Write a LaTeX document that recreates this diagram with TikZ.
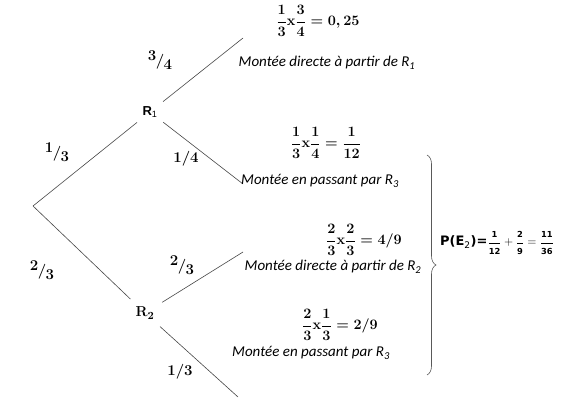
\documentclass[tikz,border=0pt]{standalone}
\usepackage{fontspec}
\usetikzlibrary{decorations.pathreplacing}
\newfontfamily\calfont{Carlito}
\newfontfamily\vfont{DejaVu Sans}
\newfontfamily\arfont{Liberation Sans}
\newcommand{\slfr}[2]{\raisebox{5pt}{#1}\kern-0.5pt/\kern-0.5pt\raisebox{-4pt}{#2}}
\newcommand{\vfr}[2]{\frac{\mbox{\vfont\bfseries\fontsize{8.3}{9}\selectfont #1}}{\mbox{\vfont\bfseries\fontsize{8.3}{9}\selectfont #2}}}
\begin{document}
\begin{tikzpicture}[x=1pt,y=-1pt,
  branch/.style={draw=black!72, line width=0.6pt},
  prob/.style={font=\fontsize{15}{17}\selectfont\bfseries, inner sep=0pt},
  caption/.style={font=\calfont\itshape\fontsize{15}{17}\selectfont, inner sep=0pt},
  res/.style={font=\fontsize{14.5}{16}\selectfont\boldmath, inner sep=0pt},
  joint/.style={circle, inner sep=0pt}]
\useasboundingbox (0,0) rectangle (565,406);
\fill[white] (0,0) rectangle (565,406);
% tree
\coordinate (root) at (33,206);
\node[joint, minimum size=33pt, font=\arfont\bfseries\fontsize{13}{15}\selectfont] (R1) at (150,112) {R\textsubscript{\mdseries 1}};
\node[joint, minimum size=40pt, font=\fontsize{15}{17}\selectfont\boldmath] (R2) at (145,313) {$\mathbf{R_2}$};
\coordinate (l1) at (243,38);
\coordinate (l2) at (243,184);
\coordinate (l3) at (243,252);
\coordinate (l4) at (238,397);
\draw[branch] (root) -- (R1);
\draw[branch] (root) -- (R2);
\draw[branch] (R1) -- (l1);
\draw[branch] (R1) -- (l2);
\draw[branch] (R2) -- (l3);
\draw[branch] (R2) -- (l4);
% branch probabilities
\node[prob] (p34) at (160,60) {\slfr{3}{4}};
\node[prob] (p13a) at (57,152) {\slfr{1}{3}};
\node[prob] (p14) at (186,159) {1/4};
\node[prob] (p23a) at (42,270) {\slfr{2}{3}};
\node[prob] (p23b) at (182,265) {\slfr{2}{3}};
\node[prob] (p13b) at (180,372) {1/3};
% results
\node[res] (e1) at (318,21) {$\displaystyle\frac{1}{3}\mathbf{x}\frac{3}{4}=0,25$};
\node[caption] (c1) at (327,63) {Montée directe à partir de R\textsubscript{1}};
\node[res] (e2) at (326,143) {$\displaystyle\frac{1}{3}\mathbf{x}\frac{1}{4}=\frac{1}{12}$};
\node[caption] (c2) at (320,181) {Montée en passant par R\textsubscript{3}};
\node[res] (e3) at (364,240) {$\displaystyle\frac{2}{3}\mathbf{x}\frac{2}{3}=4/9$};
\node[caption] (c3) at (333,267) {Montée directe à partir de R\textsubscript{2}};
\node[res] (e4) at (340,325) {$\displaystyle\frac{2}{3}\mathbf{x}\frac{1}{3}=2/9$};
\node[caption] (c4) at (311,353) {Montée en passant par R\textsubscript{3}};
% brace and total
\coordinate (b1) at (427,155);
\coordinate (b2) at (427,375);
\draw[black!65, line width=0.6pt, decorate, decoration={brace, amplitude=9pt}] (b1) -- (b2);
\node[inner sep=0pt, font=\fontsize{13}{15}\selectfont] (tot) at (497,243)
  {{\vfont\bfseries P(E\textsubscript{\mdseries 2})=}$\displaystyle\vfr{1}{12}+\vfr{2}{9}=\vfr{11}{36}$};
\end{tikzpicture}
\end{document}
